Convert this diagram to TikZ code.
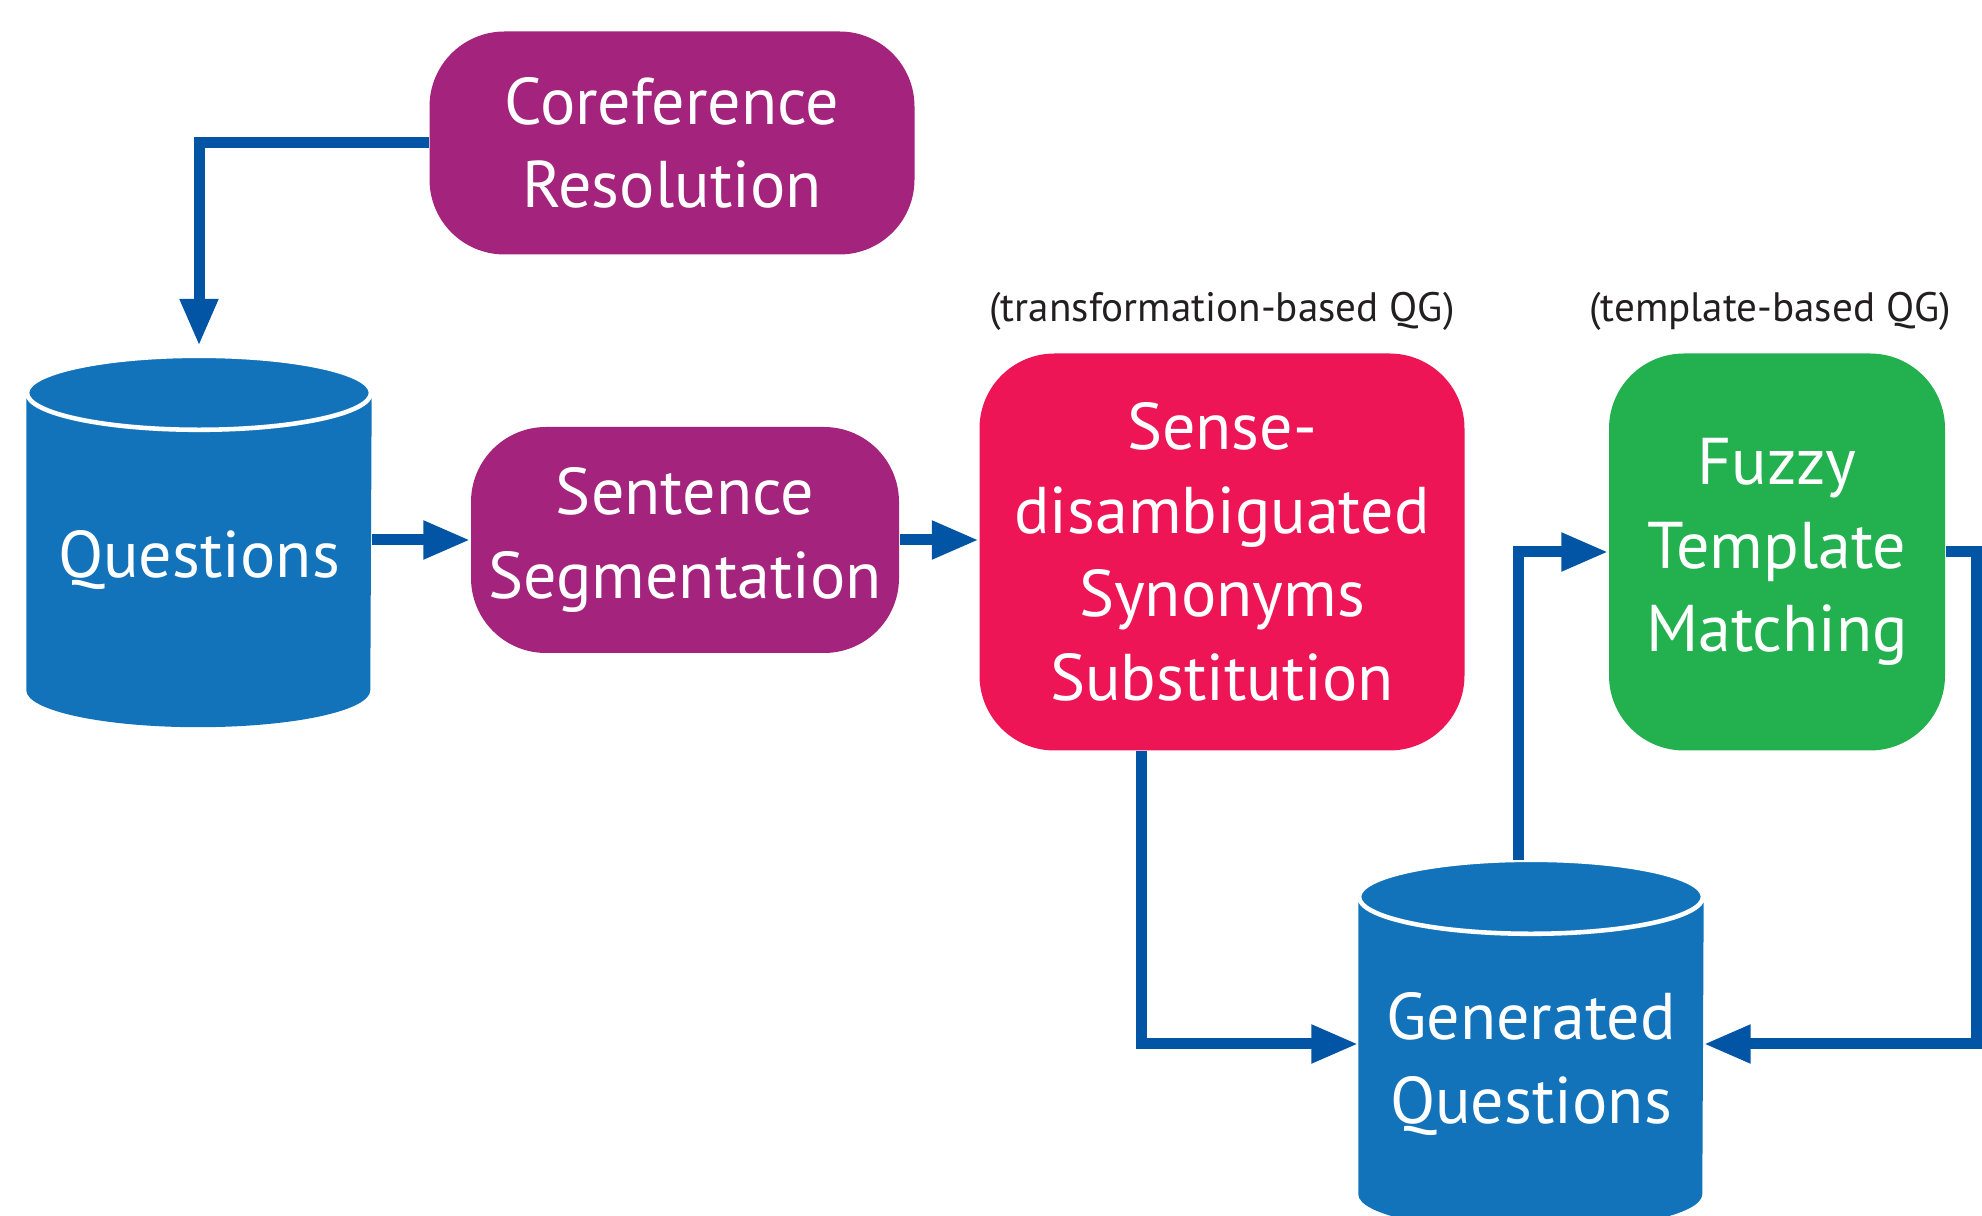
\documentclass[tikz,border=0pt]{standalone}
\usepackage{fontspec}
\setmainfont{PT Sans}
\usetikzlibrary{arrows.meta,positioning,calc,backgrounds}
\definecolor{CorefPurple}{HTML}{A3237D}
\definecolor{SenseRed}{HTML}{ED1556}
\definecolor{FuzzyGreen}{HTML}{23B14F}
\definecolor{StoreBlue}{HTML}{1273BB}
\definecolor{FlowBlue}{HTML}{0254A5}
\definecolor{NoteGray}{HTML}{231F20}
% cylinder behind a store node: top ellipse centred on its north anchor
\newcommand{\dbstore}[1]{%
  \fill[StoreBlue] (#1.north west) -- ($(#1.south west)+(0,0.37)$)
    arc[start angle=180,end angle=360,x radius=1.72,y radius=0.37] -- (#1.north east) -- cycle;
  \filldraw[fill=StoreBlue,draw=white,line width=1.3pt] (#1.north) ellipse[x radius=1.72,y radius=0.37];}

\begin{document}
\begin{tikzpicture}[>=Latex,
  stage/.style={rounded corners=0.75cm, text=white, align=center, inner sep=0pt, font=\fontsize{18.8}{23.8}\selectfont},
  store/.style={minimum width=3.44cm, minimum height=3.33cm, text=white, align=center, inner sep=0pt, font=\fontsize{18.8}{23.8}\selectfont},
  note/.style={text=NoteGray, inner sep=0pt, font=\fontsize{11.7}{14}\selectfont},
  flow/.style={-{Triangle[length=0.47cm,width=0.36cm]}, line width=0.11cm, FlowBlue}]
  \clip (0,0) rectangle (19.82,-12.16);
  \node[stage,fill=CorefPurple,minimum width=4.85cm,minimum height=2.23cm] (coref) at (6.72,-1.43) {Coreference\\Resolution};
  \node[store] (questions) at (1.99,-5.60) {Questions};
  \node[stage,fill=CorefPurple,minimum width=4.28cm,minimum height=2.26cm] (segment) at (6.85,-5.40) {Sentence\\Segmentation};
  \node[stage,fill=SenseRed,minimum width=4.85cm,minimum height=3.97cm] (synonyms) at (12.22,-5.52) {Sense-\\disambiguated\\Synonyms\\Substitution};
  \node[stage,fill=FuzzyGreen,minimum width=3.36cm,minimum height=3.97cm] (fuzzy) at (17.77,-5.52) {Fuzzy\\Template\\Matching};
  \node[store] (generated) at (15.31,-10.64) {Generated\\Questions};
  \node[note,above=0.22cm of synonyms] (translbl) {(transformation-based QG)};
  \node[note,above=0.22cm of fuzzy,xshift=-0.07cm] (templbl) {(template-based QG)};
  \begin{scope}[on background layer]
    \dbstore{questions}
    \dbstore{generated}
  \end{scope}
  \draw[flow] (coref.west) -| ([yshift=0.47cm]questions.north);
  \draw[flow] (segment.west -| questions.east) -- (segment.west);
  \draw[flow] (segment.east) -- (segment.east -| synonyms.west);
  \draw[flow] ([xshift=-0.81cm]synonyms.south) |- ([yshift=0.2cm]generated.west);
  \draw[flow] ([xshift=-0.13cm,yshift=0.37cm]generated.north) |- (fuzzy.west);
  \draw[flow] (fuzzy.east) -- ++(0.31,0) |- ([yshift=0.2cm]generated.east);
\end{tikzpicture}
\end{document}
